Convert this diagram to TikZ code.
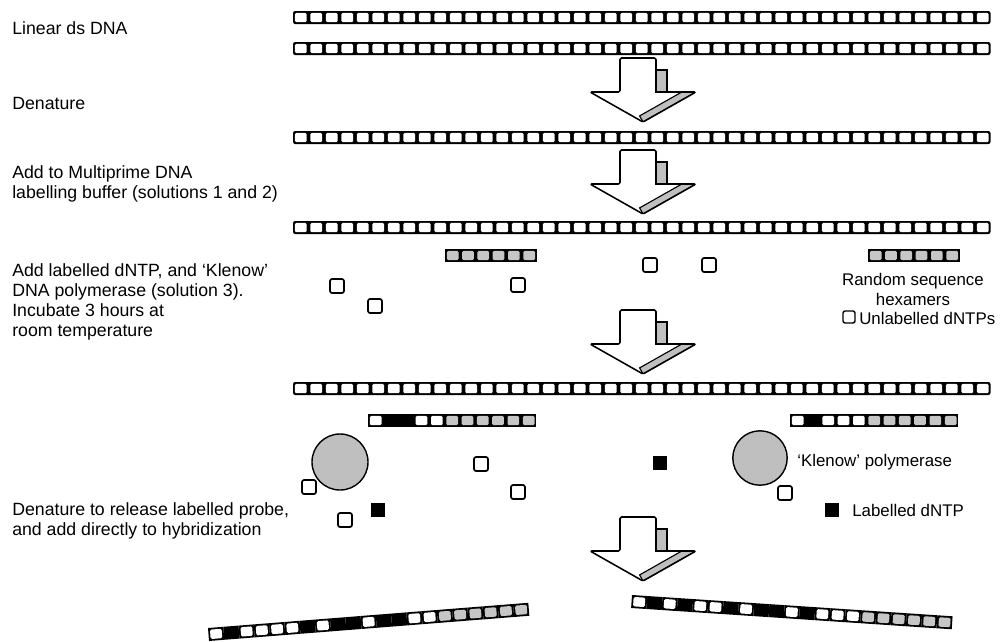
\documentclass[tikz,border=0pt]{standalone}
\usepackage{fontspec}
\setmainfont{Liberation Sans}

% base colours: w = unlabelled, b = labelled, s = hexamer primer
\colorlet{w}{white}
\colorlet{b}{black}
\colorlet{s}{gray!45}

\tikzset{
  steptext/.style={anchor=west, align=left, inner sep=0pt, font=\fontsize{12.6}{14.2}\selectfont},
  keytext/.style={inner sep=0pt, font=\fontsize{12}{14.2}\selectfont},
  freebase/.style={draw, line width=1.2pt, rounded corners=1.5pt, fill=white},
  enzyme/.style={draw, line width=1pt, fill=gray!50},
  outline/.style={draw, line width=1.1pt, line join=round},
  primer/.style={draw, line width=0.8pt, fill=gray!50},
  pics/blockarrow/.style={code={
    \fill[white] (620,0) -- (620,34) -- (590,34) -- (643,64) -- (696,34) -- (656,34) -- (656,0) -- cycle;
    \begin{scope}
      \clip (590,34) -- (643,64) -- (696,34) -- cycle;
      \filldraw[primer] (643,64) -- (696,34) -- (692.6,27.9) -- (639.6,57.9) -- cycle;
    \end{scope}
    \draw[outline, rounded corners=1pt] (620,0) -- (620,34) -- (590,34) -- (643,64) -- (696,34) -- (656,34) -- (656,0) -- cycle;
    \filldraw[primer] (656,12) rectangle (667,34);
  }}
}

% long strand of 45 unlabelled bases, top left corner at (#1,#2)
\newcommand\plainstrand[2]{%
  \fill[rounded corners=1.5pt] (#1,#2) rectangle ({#1+45*15.5},{#2+13});
  \foreach \i in {1,...,45}
    \fill[white, rounded corners=1pt] ({#1+(\i-1)*15.5+1.8},{#2+1.8}) rectangle ({#1+\i*15.5-1.8},{#2+11.2});
}

% short strand, list of bases w/b/s
\newcommand\dnarow[3]{%
  \foreach \base [count=\i] in {#3}{
    \fill ({#1+(\i-1)*15.3},#2) rectangle ({#1+\i*15.3},{#2+13});
    \fill[\base, rounded corners=1pt] ({#1+(\i-1)*15.3+1.8},{#2+1.8}) rectangle ({#1+\i*15.3-1.8},{#2+11.2});
  }}

\begin{document}
\begin{tikzpicture}[x=0.025cm, y=-0.025cm]
    \useasboundingbox (0,0) rectangle (1001,641);

    % Steps
    \node[steptext] (linear) at (12,28) {Linear ds DNA};
    \node[steptext] (denature) at (12,103) {Denature};
    \node[steptext] (buffer) at (12,184) {Add to Multiprime DNA\\labelling buffer (solutions 1 and 2)};
    \node[steptext] (incubate) at (12,302) {Add labelled dNTP, and ‘Klenow’\\DNA polymerase (solution 3).\\Incubate 3 hours at\\room temperature};
    \node[steptext] (release) at (12,521) {Denature to release labelled probe,\\and add directly to hybridization};

    % Template strands
    \plainstrand{293}{11}
    \plainstrand{293}{42}
    \plainstrand{293}{131}
    \plainstrand{293}{221}
    \plainstrand{293}{382}

    % Arrows
    \pic (arrowa) at (0,58) {blockarrow};
    \pic (arrowb) at (0,150) {blockarrow};
    \pic (arrowc) at (0,310) {blockarrow};
    \pic (arrowd) at (0,517) {blockarrow};

    % Hexamers and free dNTPs
    \dnarow{445}{249}{s,s,s,s,s,s}
    \dnarow{868}{249}{s,s,s,s,s,s}
    \foreach \x/\y in {337/286, 375/306, 518/285, 650/265, 709/265}
      \draw[freebase] ({\x-7},{\y-7}) rectangle ({\x+7},{\y+7});

    % Legend
    \node[keytext, align=center] (hexamers) at (913,289) {Random sequence\\hexamers};
    \draw[freebase, line width=1pt] (843,311) rectangle (855,323);
    \node[keytext, anchor=west] (unlabelled) at (859,318) {Unlabelled dNTPs};

    % Extension by Klenow
    \dnarow{368}{414}{w,b,b,w,w,s,s,s,s,s,s}
    \dnarow{790}{414}{w,b,w,w,w,s,s,s,s,s,s}
    \filldraw[enzyme] (340,462) circle [radius=0.7cm];
    \filldraw[enzyme] (760,458) circle [radius=0.68cm];
    \foreach \x/\y in {481/464, 309/487, 518/492, 785/493, 345/520}
      \draw[freebase] ({\x-7},{\y-7}) rectangle ({\x+7},{\y+7});
    \foreach \x/\y in {378/510, 660/463, 832/510}
      \fill ({\x-7},{\y-7}) rectangle ({\x+7},{\y+7});
    \node[keytext, anchor=west] (klenow) at (797,462) {‘Klenow’ polymerase};
    \node[keytext, anchor=west] (labelled) at (852,510) {Labelled dNTP};

    % Labelled probes
    \begin{scope}[shift={(208,628)}, rotate=4.5]
      \dnarow{0}{0}{w,b,w,w,w,w,b,w,b,b,w,b,b,w,w,s,s,s,s,s,s}
    \end{scope}
    \begin{scope}[shift={(632,595)}, rotate=-3.8]
      \dnarow{0}{0}{w,b,w,b,w,w,b,w,b,b,w,b,w,w,w,s,s,s,s,s,s}
    \end{scope}

\end{tikzpicture}
\end{document}
